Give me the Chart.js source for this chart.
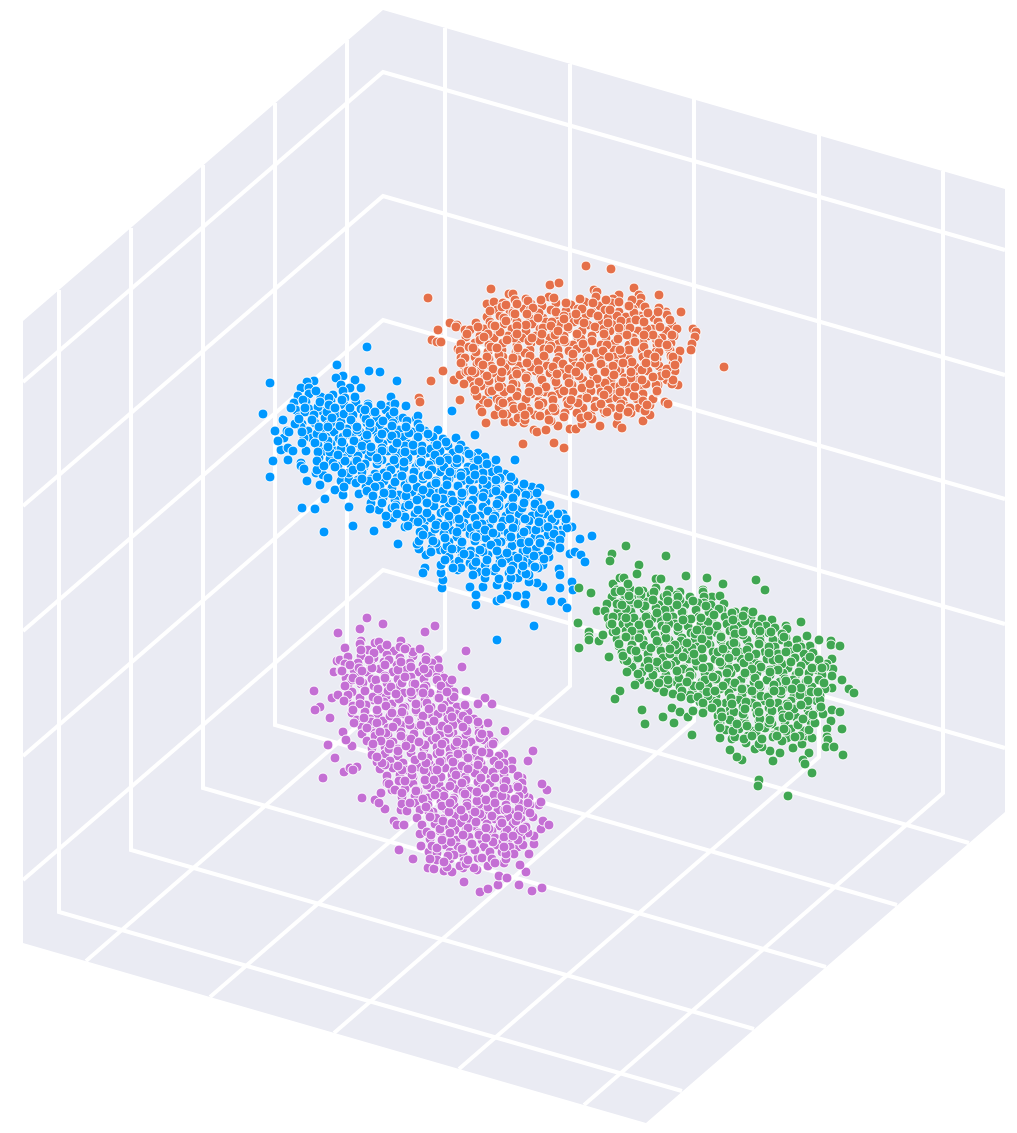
<!DOCTYPE html>
<html><head><meta charset="utf-8">
<style>html,body{margin:0;padding:0;background:#fff}canvas{display:block}</style>
<script src="https://cdn.jsdelivr.net/npm/chart.js@4/dist/chart.umd.min.js"></script>
</head><body><canvas id="c" width="1017" height="1133"></canvas>
<script>
const wallTop=[[23,321],[383,10],[1005,189]];
const wallBottom=[[23,943],[646,1123],[1005,812]];
const heightLines=[
[[23,382],[383,72],[1005,250]],
[[23,506],[383,196],[1005,375]],
[[23,631],[383,320],[1005,499]],
[[23,756],[383,445],[1005,624]],
[[23,880],[383,570],[1005,748]]];
const depthLines=[
[[59,290],[59,912],[682,1091]],
[[131,228],[131,850],[754,1029]],
[[203,165],[203,788],[826,967]],
[[275,103],[275,725],[897,905]],
[[347,40],[347,663],[969,843]]];
const widthLines=[
[[445,28],[445,650],[86,961]],
[[570,64],[570,686],[210,997]],
[[694,99],[694,721],[334,1033]],
[[819,135],[819,757],[459,1069]],
[[943,171],[943,793],[584,1105]]];

const blueXY=[
367,347,337,365,369,371,380,372,343,376,336,378,355,380,397,381,270,383,314,381,307,382,301,388,309,388,341,385,350,388,343,391,361,388,263,414,275,431,284,438,287,431,289,432,281,450,288,448,293,451,273,461,288,460,270,477,301,463,301,466,304,469,307,481,316,473,323,475,320,485,341,481,349,480,335,490,343,495,325,499,302,508,315,509,349,507,324,532,353,526,374,531,398,544,405,527,387,524,391,397,390,406,395,404,406,406,396,419,416,419,418,416,475,435,515,460,532,487,540,488,575,494,580,539,592,536,572,527,562,530,570,554,575,552,581,555,585,562,559,569,560,575,572,582,573,590,560,588,543,587,537,583,529,582,529,575,518,578,510,581,508,586,497,585,526,595,517,596,507,595,497,601,501,599,525,604,551,601,562,602,567,608,534,626,497,640,476,605,476,595,483,587,470,587,442,588,443,580,441,573,441,565,425,568,423,573,426,555,419,549,417,544,432,548,440,550,447,556,452,411,489,399,
298,396,309,394,321,397,333,395,345,398,294,403,306,402,319,404,331,401,344,405,356,402,368,404,296,410,309,409,322,411,335,408,348,411,361,409,373,412,386,410,299,417,312,416,325,418,338,416,351,418,364,416,377,418,390,416,403,418,302,424,315,423,328,425,341,422,354,425,367,423,380,425,393,423,406,425,418,424,308,431,321,430,334,432,347,429,360,432,373,430,386,432,399,430,412,432,425,431,438,430,312,438,326,437,339,439,352,436,365,439,378,437,391,439,404,437,417,439,430,437,443,439,456,438,
318,445,331,444,344,446,357,443,370,446,383,444,396,446,409,444,422,446,435,444,448,446,461,445,322,452,336,451,349,453,362,450,375,453,388,451,401,453,414,451,427,453,440,451,453,453,466,451,478,453,330,459,343,458,356,460,369,457,382,460,395,458,408,460,421,458,434,460,447,458,460,460,473,458,486,460,338,466,351,465,364,467,377,464,390,467,403,465,416,467,429,465,442,467,455,465,468,467,481,465,494,467,
349,473,362,472,375,474,388,471,401,474,414,472,427,474,440,472,453,474,466,472,479,474,492,472,505,474,358,480,371,479,384,481,397,478,410,481,423,479,436,481,449,479,462,481,475,479,488,481,501,479,514,481,366,487,379,486,392,488,405,485,418,488,431,486,444,488,457,486,470,488,483,486,496,488,509,486,522,488,373,494,386,493,399,495,412,492,425,495,438,493,451,495,464,493,477,495,490,493,503,495,516,493,529,495,
382,501,395,500,408,502,421,499,434,502,447,500,460,502,473,500,486,502,499,500,512,502,525,500,538,502,392,508,405,507,418,509,431,506,444,509,457,507,470,509,483,507,496,509,509,507,522,509,535,507,548,509,402,515,415,514,428,516,441,513,454,516,467,514,480,516,493,514,506,516,519,514,532,516,545,514,558,516,412,522,425,521,438,523,451,520,464,523,477,521,490,523,503,521,516,523,529,521,542,523,555,521,566,523,
424,529,437,528,450,530,463,527,476,530,489,528,502,530,515,528,528,530,541,528,554,530,567,528,431,536,444,535,457,537,470,534,483,537,496,535,509,537,522,535,535,537,548,535,561,537,436,543,449,542,462,544,475,541,488,544,501,542,514,544,527,542,540,544,553,542,445,550,458,549,471,551,484,548,497,551,510,549,523,551,536,549,549,551,449,557,462,556,475,558,488,555,501,558,514,556,527,558,540,556,455,564,470,563,485,565,500,562,515,565,530,563,543,565,478,572,494,571,509,573,522,571,
303,400,305,412,301,427,304,438,306,451,316,391,318,407,314,415,317,434,315,443,319,458,317,470,329,398,327,412,331,423,328,441,330,452,333,463,328,478,342,400,344,414,340,426,343,437,341,449,345,461,342,473,344,487,355,397,353,415,357,430,354,441,358,456,353,470,356,483,359,494,368,406,366,419,370,428,367,443,371,452,365,464,369,481,367,492,371,503,381,405,383,421,379,439,382,448,378,460,384,473,380,486,383,498,379,510,394,412,392,426,396,435,393,449,397,464,391,470,395,482,392,494,396,505,393,518,
407,421,409,433,405,446,408,458,404,468,410,480,406,496,409,505,405,517,408,526,420,428,418,437,422,451,419,463,423,476,417,487,421,497,418,510,422,519,420,532,419,541,433,437,431,449,435,455,432,470,436,483,430,493,434,506,431,518,435,529,433,541,431,552,446,442,448,460,444,467,447,479,443,491,449,503,445,512,448,523,444,534,447,546,445,560,459,449,457,463,461,473,458,486,462,496,456,510,460,525,457,532,461,549,459,561,458,570,472,456,474,468,470,480,473,490,469,505,475,518,471,528,474,536,470,555,473,566,
485,457,483,473,487,485,484,493,488,511,482,524,486,538,483,552,487,560,485,578,498,470,500,478,496,491,499,506,495,516,501,527,497,543,500,556,496,568,499,579,511,477,509,489,513,498,510,511,514,522,508,533,512,546,509,559,513,566,511,578,524,484,526,495,522,508,525,519,521,536,527,550,523,561,526,574,537,493,535,504,539,514,536,530,540,539,534,556,538,568,550,505,552,519,548,527,551,546,549,557,563,514,561,535,283,420,291,408,278,441,295,424,
320,402,305,408,329,405,335,408,350,408,365,410,375,412,299,419,312,420,332,418,351,420,370,423,357,427,319,427,328,427,347,433,302,432,323,437,367,435,382,434,392,436,397,443,406,427,405,452,302,443,328,447,342,442,362,446,371,447,382,451,351,450,318,452,338,455,377,458,394,460,404,462,421,462,357,461,317,461,335,467,324,466,361,467,377,477,387,476,402,476,412,479,428,475,362,479,375,487,407,488,384,493,417,500,367,491,373,496,382,503,395,507,427,513,370,509,386,516,397,514,418,522,427,503,
413,445,428,434,437,445,440,461,421,462,428,475,413,479,450,472,457,459,469,454,478,460,487,464,496,460,483,480,496,480,475,475,461,476,447,485,423,490,453,501,443,499,436,498,462,493,483,497,497,504,513,507,524,503,542,509,510,519,493,519,472,509,459,519,449,516,436,525,477,525,485,530,493,533,513,528,524,532,539,522,445,526,423,535,445,538,462,542,476,537,491,545,511,537,521,543,529,542,540,543,480,550,497,551,507,553,452,549,464,554,476,562,461,568,453,568,486,572,502,563,518,558,523,566,535,567,511,570,473,575,548,551,544,559,558,514,566,519,554,534,560,540,560,548];

const purpleXY=[
367,618,383,624,360,629,338,633,435,626,425,632,361,641,360,644,345,648,466,651,462,667,401,641,375,643,379,642,337,661,340,660,334,672,314,691,320,707,315,710,330,718,332,698,338,695,328,745,335,758,323,778,344,772,350,768,357,767,353,770,343,732,352,746,346,740,362,798,375,800,385,809,379,803,401,810,394,821,397,825,404,825,420,834,399,850,413,859,421,846,429,852,428,868,434,869,444,871,452,872,464,882,463,868,477,870,480,892,488,889,498,885,499,876,507,878,519,885,532,891,542,888,526,872,520,865,504,863,529,854,534,844,534,836,541,829,543,821,549,825,518,847,513,854,539,805,541,802,529,798,524,794,547,790,542,784,522,778,528,761,533,751,512,761,504,754,505,731,492,704,485,698,478,704,466,691,488,723,438,660,439,672,
368,650,381,649,394,651,407,648,348,657,361,656,374,658,387,655,400,658,413,656,426,657,345,664,358,663,371,665,384,662,397,665,410,663,423,665,432,663,341,671,354,670,367,672,380,669,393,672,406,670,419,672,432,670,346,678,359,677,372,679,385,676,398,679,411,677,424,679,437,677,444,678,348,685,361,684,374,686,387,683,400,686,413,684,426,686,439,684,449,685,352,692,365,691,378,693,391,690,404,693,417,691,430,693,443,691,454,692,347,699,360,698,373,700,386,697,399,700,412,698,425,700,438,698,451,700,353,706,366,705,379,707,392,704,405,707,418,705,431,707,444,705,457,707,
352,713,365,712,378,714,391,711,404,714,417,712,430,714,443,712,456,714,468,712,357,720,370,719,383,721,396,718,409,721,422,719,435,721,448,719,461,721,474,719,362,727,375,726,388,728,401,725,414,728,427,726,440,728,453,726,466,728,479,726,362,734,375,733,388,735,401,732,414,735,427,733,440,735,453,733,466,735,479,733,489,735,367,741,380,740,393,742,406,739,419,742,432,740,445,742,458,740,471,742,484,740,494,742,372,748,385,747,398,749,411,746,424,749,437,747,450,749,463,747,476,749,489,747,
372,755,385,754,398,756,411,753,424,756,437,754,450,756,463,754,476,756,489,754,499,756,377,762,390,761,403,763,416,760,429,763,442,761,455,763,468,761,481,763,494,761,504,763,380,769,393,768,406,770,419,767,432,770,445,768,458,770,471,768,484,770,497,768,512,769,387,776,400,775,413,777,426,774,439,777,452,775,465,777,478,775,491,777,504,775,518,776,387,783,400,782,413,784,426,781,439,784,452,782,465,784,478,782,491,784,504,782,522,783,
392,790,405,789,418,791,431,788,444,791,457,789,470,791,483,789,496,791,509,789,523,790,402,797,415,796,428,798,441,795,454,798,467,796,480,798,493,796,506,798,519,796,402,804,415,803,428,805,441,802,454,805,467,803,480,805,493,803,506,805,519,803,530,805,407,811,420,810,433,812,446,809,459,812,472,810,485,812,498,810,511,812,524,810,417,818,430,817,443,819,456,816,469,819,482,817,495,819,508,817,521,819,533,817,422,825,435,824,448,826,461,823,474,826,487,824,500,826,513,824,526,826,
427,832,440,831,453,833,466,830,479,833,492,831,505,833,518,831,528,833,430,839,443,838,456,840,469,837,482,840,495,838,508,840,521,838,432,846,445,845,458,847,471,844,484,847,497,845,510,847,523,845,437,853,450,852,463,854,476,851,489,854,502,852,514,854,437,860,450,859,464,861,478,858,492,861,506,859,447,867,460,866,474,868,488,866,
350,665,352,680,348,695,361,650,359,668,363,683,360,704,374,653,372,668,376,680,373,697,377,710,371,722,375,736,387,645,389,660,385,678,388,691,384,702,390,716,386,733,389,749,385,765,400,647,398,670,402,683,399,699,403,708,397,722,401,736,398,751,402,770,399,781,413,652,411,667,415,684,412,695,416,710,410,725,414,734,411,748,415,760,412,775,416,790,410,803,426,660,428,673,424,688,427,703,423,716,429,731,425,745,428,758,424,770,427,785,423,799,429,812,
439,668,437,680,441,693,438,714,442,726,436,738,440,752,437,767,441,777,438,793,442,806,436,818,440,829,437,848,452,680,454,697,450,711,453,725,449,733,455,746,451,759,454,771,450,786,453,800,449,812,455,830,451,842,454,855,465,705,463,716,467,731,464,744,468,758,462,766,466,780,463,792,467,806,464,817,468,828,462,849,466,864,478,722,480,738,476,750,479,760,475,773,481,789,477,801,480,814,476,822,479,835,475,850,491,745,489,753,493,772,490,783,494,795,488,807,492,816,489,829,493,842,490,852,504,770,506,781,502,796,505,810,501,820,507,830,503,841,506,854,517,786,515,799,519,809,516,821,520,832,518,840,528,803,530,813,526,827,
342,671,362,671,353,678,369,660,385,665,401,662,405,649,420,649,424,669,405,677,391,687,378,689,360,681,365,691,345,686,344,701,353,710,364,718,378,700,386,706,396,694,411,692,423,693,441,686,439,698,447,692,429,709,442,708,416,704,402,712,392,713,377,723,393,727,409,720,421,725,434,721,452,717,468,720,448,729,463,727,354,723,367,728,380,732,411,739,419,742,442,744,457,742,482,734,493,744,390,744,381,741,373,744,406,746,426,763,422,756,458,754,482,752,440,762,382,763,398,766,377,757,412,769,437,770,453,762,468,769,478,765,499,765,405,781,389,784,425,780,434,780,456,775,481,778,495,778,462,783,518,787,485,788,477,792,444,796,435,795,416,791,395,790,381,793,402,793,465,794,504,788,486,800,450,803,426,807,495,803,507,809,461,810,475,812,430,817,443,821,452,823,502,823,518,816,523,829,486,828,463,835,450,833,431,835,442,840,472,844,486,838,504,837,513,836,504,847,482,858,468,860,448,856,444,862,492,859,495,863,430,859];

const greenXY=[
626,546,612,554,610,561,666,556,639,565,637,574,686,576,707,578,756,580,765,590,723,584,579,588,591,593,613,584,620,578,624,578,656,579,661,579,597,611,578,623,579,648,589,632,589,637,589,640,599,641,603,635,609,657,620,691,615,699,642,710,645,724,663,717,672,708,680,712,674,723,688,717,692,735,703,590,703,592,712,597,720,596,704,597,772,620,801,622,786,626,787,629,807,636,799,643,819,640,831,641,831,645,840,646,810,646,789,648,782,640,814,656,832,659,827,664,833,669,817,670,832,676,842,680,849,689,854,693,832,688,832,710,840,712,831,721,842,729,827,729,827,737,828,740,826,747,834,747,843,755,812,773,809,753,803,760,805,764,780,753,773,761,742,760,737,757,730,750,732,739,720,738,746,743,755,749,759,780,758,786,788,796,770,751,762,747,793,748,802,744,806,736,
617,590,630,589,643,591,656,588,669,590,680,592,612,597,625,596,638,598,651,595,664,597,677,595,690,597,704,603,607,604,620,603,633,605,646,602,659,605,672,603,685,605,698,603,711,605,724,604,605,611,618,610,631,612,644,609,657,612,670,610,683,612,696,610,709,612,722,610,735,612,745,611,608,618,621,617,634,619,647,616,660,619,673,617,686,619,699,617,712,619,725,617,738,619,751,617,762,619,
610,625,623,624,636,626,649,623,662,626,675,624,688,626,701,624,714,626,727,624,740,626,753,624,766,626,775,628,613,632,626,631,639,633,652,630,665,633,678,631,691,633,704,631,717,633,730,631,743,633,756,631,769,633,782,634,617,639,630,638,643,640,656,637,669,640,682,638,695,640,708,638,721,640,734,638,747,640,760,638,773,640,786,638,797,640,619,646,632,645,645,647,658,644,671,647,684,645,697,647,710,645,723,647,736,645,749,647,762,645,775,647,788,645,801,647,
622,653,635,652,648,654,661,651,674,654,687,652,700,654,713,652,726,654,739,652,752,654,765,652,778,654,791,652,804,654,813,653,624,660,637,659,650,661,663,658,676,661,689,659,702,661,715,659,728,661,741,659,754,661,767,659,780,661,793,659,806,661,819,660,632,667,645,666,658,668,671,665,684,668,697,666,710,668,723,666,736,668,749,666,762,668,775,666,788,668,801,666,814,668,825,667,640,674,653,673,666,675,679,672,692,675,705,673,718,675,731,673,744,675,757,673,770,675,783,673,796,675,809,673,822,675,
650,681,663,680,676,682,689,679,702,682,715,680,728,682,741,680,754,682,767,680,780,682,793,680,806,682,819,680,665,688,680,687,693,689,708,686,721,689,734,687,747,689,760,687,773,689,786,687,799,689,812,687,825,689,690,695,703,694,716,696,729,693,742,696,755,694,768,696,781,694,794,696,807,694,820,696,700,702,713,701,726,703,739,700,752,703,765,701,778,703,791,701,804,703,817,701,704,709,717,708,730,710,743,707,756,710,769,708,782,710,795,708,808,710,820,708,
718,716,731,715,744,717,757,714,770,717,783,715,796,717,809,715,720,723,733,722,746,724,759,721,772,724,785,722,798,724,811,722,726,730,739,729,752,731,765,728,778,731,791,729,804,731,735,737,748,736,761,738,774,735,787,738,800,736,812,738,
615,592,617,604,613,617,616,631,628,584,630,600,626,609,629,624,625,637,631,650,627,661,641,595,639,603,643,621,640,633,644,645,638,658,642,672,640,680,654,592,656,608,652,619,655,635,651,648,657,662,653,675,656,688,667,595,665,610,669,624,666,638,670,654,664,668,668,684,680,600,682,612,678,627,681,641,677,650,683,669,679,678,682,691,693,601,691,619,695,634,692,648,696,661,690,672,694,686,691,699,706,606,708,622,704,630,707,644,703,658,709,667,705,680,708,696,704,706,
719,609,717,626,721,636,718,652,722,665,716,679,720,689,717,703,721,712,718,724,732,613,734,629,730,645,733,656,729,669,735,683,731,698,734,712,730,720,733,731,745,621,743,635,747,650,744,663,748,672,742,688,746,702,743,714,747,726,744,739,758,626,760,641,756,654,759,665,755,678,761,696,757,706,760,719,756,733,759,744,771,632,769,647,773,660,770,670,774,685,768,697,772,711,769,723,773,737,784,637,786,652,782,664,785,679,781,691,787,704,783,718,786,731,782,741,797,648,795,658,799,672,796,683,800,695,794,709,798,725,795,737,810,657,812,668,808,680,811,692,807,705,813,717,809,730,822,668,824,683,820,700,823,714,
639,591,621,591,629,596,653,600,668,601,678,597,645,606,622,605,638,604,677,605,657,613,667,617,646,617,634,618,626,618,683,620,701,618,714,615,733,620,743,616,753,612,697,630,666,629,649,624,639,625,612,624,632,631,626,637,619,644,639,638,657,641,687,643,675,645,702,639,709,631,721,637,735,634,743,632,760,631,759,644,734,643,702,649,723,649,736,652,749,657,670,649,636,651,623,656,648,661,667,665,683,657,694,654,720,662,703,668,729,658,761,667,779,659,769,653,778,670,791,662,770,672,752,669,745,673,727,673,713,677,690,676,677,671,649,668,638,674,627,672,668,680,723,686,700,686,687,682,659,683,635,685,649,685,664,692,673,694,681,697,707,692,715,691,742,689,759,685,774,691,786,681,801,688,818,692,792,689,808,701,821,707,801,705,788,706,770,703,752,691,732,704,745,709,759,712,712,708,698,697,703,703,693,711,703,713,722,717,737,724,720,728,759,727,770,720,789,716,784,729,752,736,777,736,803,719,815,723,813,715,762,739];

const orangeXY=[
586,266,611,269,550,285,559,283,491,289,428,298,509,294,513,294,594,290,597,292,596,297,634,288,639,295,641,298,659,295,619,295,613,299,607,301,549,297,526,299,487,304,494,302,681,312,666,312,658,322,693,329,696,332,695,337,692,344,691,350,680,351,724,367,450,323,457,325,456,327,438,330,432,340,437,342,441,342,465,330,458,349,443,371,431,381,454,380,460,375,419,398,420,402,460,400,480,407,482,412,486,423,495,415,505,422,513,422,524,423,534,430,537,432,546,430,558,426,570,429,576,429,582,424,600,426,617,424,622,428,643,421,650,415,650,405,653,399,665,402,668,404,678,385,658,385,523,444,554,443,564,448,
503,303,517,305,531,304,542,306,556,303,571,305,585,302,600,306,612,303,628,306,640,304,497,310,510,311,524,309,537,312,551,310,566,311,578,309,592,312,605,310,619,312,633,309,647,311,659,308,487,317,500,316,515,318,529,316,543,318,557,315,571,317,586,316,599,318,612,315,626,317,640,316,654,318,667,315,476,323,490,322,504,324,518,322,532,324,546,322,560,324,574,322,588,325,602,322,616,324,630,322,644,324,658,322,672,325,
470,330,484,329,498,331,512,329,526,331,540,329,554,331,568,329,582,331,596,329,610,331,624,329,638,331,652,329,666,331,677,329,466,337,480,336,494,338,508,336,522,338,536,336,550,338,564,336,578,338,592,336,606,338,620,336,634,338,648,336,662,338,674,336,461,344,475,343,489,345,503,343,517,345,531,343,545,345,559,343,573,345,587,343,601,345,615,343,629,345,643,343,657,345,671,343,460,351,474,350,488,352,502,350,516,352,530,350,544,352,558,350,572,352,586,350,600,352,614,350,628,352,642,350,656,352,670,350,
461,358,475,357,489,359,503,357,517,359,531,357,545,359,559,357,573,359,587,357,601,359,615,357,629,359,643,357,657,359,671,357,678,360,463,365,477,364,491,366,505,364,519,366,533,364,547,366,561,364,575,366,589,364,603,366,617,364,631,366,645,364,659,366,673,364,466,372,480,371,494,373,508,371,522,373,536,371,550,373,564,371,578,373,592,371,606,373,620,371,634,373,648,371,662,373,675,371,
471,379,485,378,499,380,513,378,527,380,541,378,555,380,569,378,583,380,597,378,611,380,625,378,639,380,653,378,667,380,474,386,488,385,502,387,516,385,530,387,544,385,558,387,572,385,586,387,600,385,614,387,628,385,642,387,656,385,672,384,475,393,489,392,503,394,517,392,531,394,545,392,559,394,573,392,587,394,601,392,615,394,629,392,643,394,657,392,483,400,497,399,511,401,525,399,539,401,553,399,567,401,581,399,595,401,609,399,623,401,637,399,499,407,513,406,527,408,541,406,555,408,569,406,583,408,597,406,611,408,625,406,639,408,507,414,521,413,535,415,549,413,563,415,577,413,591,415,605,413,619,415,631,413,645,411,
467,334,469,347,465,358,468,371,464,384,478,327,480,340,476,352,479,362,475,373,481,386,477,396,490,311,492,325,488,334,491,347,487,357,493,369,489,381,492,391,488,403,502,307,504,318,500,332,503,343,499,355,505,367,501,378,504,392,500,401,503,414,515,300,513,313,517,322,514,338,518,350,512,361,516,371,513,384,517,396,514,409,518,418,528,301,530,310,526,325,529,341,525,353,531,367,527,376,530,387,526,399,529,411,525,420,541,300,539,313,543,328,540,341,544,349,538,362,542,380,539,392,543,403,540,416,
554,298,556,312,552,322,555,335,551,346,557,361,553,369,556,382,552,396,555,411,551,421,566,303,564,316,568,327,565,342,569,351,563,364,567,377,564,391,568,404,565,413,580,299,582,309,578,320,581,339,577,349,583,362,579,376,582,388,578,403,581,418,593,303,591,313,595,327,592,336,596,353,590,367,594,377,591,391,595,407,592,419,606,300,608,318,604,329,607,345,603,351,609,369,605,383,608,393,604,410,619,302,617,316,621,321,618,339,622,354,616,370,620,386,617,398,621,404,618,416,632,300,634,313,630,328,633,338,629,350,635,367,631,378,634,396,630,408,645,307,643,319,647,329,644,347,648,354,642,370,646,384,643,401,647,405,658,312,660,327,656,339,659,352,655,363,661,376,657,391,670,320,672,335,668,347,671,356,667,369,673,380,
506,305,517,304,533,308,515,314,527,314,506,321,517,326,495,326,538,318,551,326,564,319,576,314,584,323,598,316,610,310,608,323,619,328,629,306,636,320,644,322,648,313,653,335,644,335,627,335,604,334,592,341,577,334,558,331,542,334,532,338,517,334,507,340,484,337,473,348,497,348,518,348,549,349,564,340,583,344,573,354,544,356,530,356,513,358,501,362,483,365,461,363,527,363,553,367,580,366,589,358,609,357,620,350,635,342,659,343,667,345,673,357,655,357,646,363,632,362,623,363,613,366,601,364,605,372,593,372,569,369,539,370,517,374,502,372,472,371,487,376,479,382,526,378,557,374,576,372,614,375,631,372,653,377,666,374,675,365,642,380,623,382,597,379,569,383,546,387,511,389,475,390,499,387,538,391,590,384,608,390,635,387,620,392,604,395,587,398,571,400,553,400,529,392,503,403,522,407,539,405,553,408,601,404,620,408,628,412,607,412,588,416,564,417,549,420,525,415];

function toPoints(flat){const a=[];for(let i=0;i<flat.length;i+=2)a.push({x:flat[i],y:flat[i+1]});return a;}
function toLine(p){return p.map(q=>({x:q[0],y:q[1]}));}

const WALL='#EAEBF3',GRID='#FFFFFF';
const datasets=[];
datasets.push({type:'scatter',showLine:true,data:toLine(wallTop),fill:'+1',backgroundColor:WALL,borderWidth:0,pointRadius:0,tension:0,order:30});
datasets.push({type:'scatter',showLine:true,data:toLine(wallBottom),borderWidth:0,pointRadius:0,tension:0,order:30});
[...heightLines,...depthLines,...widthLines].forEach(l=>datasets.push({type:'scatter',showLine:true,data:toLine(l),borderColor:GRID,borderWidth:4,pointRadius:0,tension:0,fill:false,borderJoinStyle:'miter',borderCapStyle:'butt',order:20}));
function series(flat,color,order){return {type:'scatter',data:toPoints(flat),backgroundColor:color,borderColor:'#FFFFFF',borderWidth:1,pointRadius:5,pointHoverRadius:5,order};}
datasets.push(series(blueXY,'#0098FF',13));
datasets.push(series(purpleXY,'#C46FD4',12));
datasets.push(series(greenXY,'#40A652',11));
datasets.push(series(orangeXY,'#E5704A',10));

new Chart(document.getElementById('c'),{
 type:'scatter',
 data:{datasets},
 options:{
  responsive:false,animation:false,
  layout:{padding:0,autoPadding:false},
  plugins:{legend:{display:false},tooltip:{enabled:false},title:{display:false}},
  scales:{
   x:{type:'linear',min:0,max:1017,display:false},
   y:{type:'linear',min:0,max:1133,reverse:true,display:false}
  }
 }
});
</script></body></html>
